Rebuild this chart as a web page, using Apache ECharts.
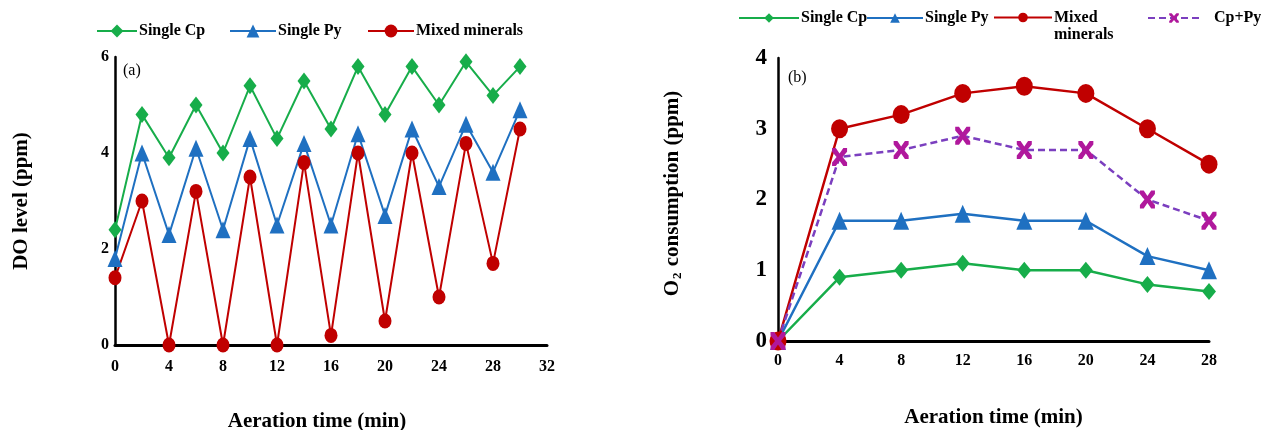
<!DOCTYPE html>
<html>
<head>
<meta charset="utf-8">
<script src="https://cdn.jsdelivr.net/npm/echarts@6/dist/echarts.min.js"></script>
<style>
  html, body { margin: 0; padding: 0; background: #fff; }
  #chart { width: 1261px; height: 430px; }
</style>
</head>
<body>
<div id="chart"></div>
<script>
// ---- Data: panel (a) DO level ----
const timeA = [0, 2, 4, 6, 8, 10, 12, 14, 16, 18, 20, 22, 24, 26, 28, 30];
const cpA  = [2.4, 4.8, 3.9, 5.0, 4.0, 5.4, 4.3, 5.5, 4.5, 5.8, 4.8, 5.8, 5.0, 5.9, 5.2, 5.8];
const pyA  = [1.8, 4.0, 2.3, 4.1, 2.4, 4.3, 2.5, 4.2, 2.5, 4.4, 2.7, 4.5, 3.3, 4.6, 3.6, 4.9];
const mixA = [1.4, 3.0, 0.0, 3.2, 0.0, 3.5, 0.0, 3.8, 0.2, 4.0, 0.5, 4.0, 1.0, 4.2, 1.7, 4.5];
const xTicksA = [0, 4, 8, 12, 16, 20, 24, 28, 32];
const yTicksA = [0, 2, 4, 6];

// ---- Data: panel (b) O2 consumption ----
const timeB = [0, 4, 8, 12, 16, 20, 24, 28];
const cpB   = [0, 0.9, 1.0, 1.1, 1.0, 1.0, 0.8, 0.7];
const pyB   = [0, 1.7, 1.7, 1.8, 1.7, 1.7, 1.2, 1.0];
const mixB  = [0, 3.0, 3.2, 3.5, 3.6, 3.5, 3.0, 2.5];
const cppyB = [0, 2.6, 2.7, 2.9, 2.7, 2.7, 2.0, 1.7];
const xTicksB = [0, 4, 8, 12, 16, 20, 24, 28];
const yTicksB = [0, 1, 2, 3, 4];

const names = ['Single Cp', 'Single Py', 'Mixed minerals', 'Cp+Py'];

const GREEN = '#17ad4a', BLUE = '#1f70c1', RED = '#c00000', VIOLET = '#7b3fbf', MAGENTA = '#b0189c';
const FONT = 'Liberation Serif';
const XSYM = 'path://M0,0 L5,0 L10,6 L15,0 L20,0 L20,4 L14,10 L20,16 L20,20 L15,20 L10,14 L5,20 L0,20 L0,16 L6,10 L0,4 Z';

const pairs = (xs, ys) => xs.map((x, i) => [x, ys[i]]);

const boldText = (size) => ({ color: '#000', fontFamily: FONT, fontWeight: 'bold', fontSize: size });

function legendItem(name, left, top, w, h, size, extra) {
  return Object.assign({
    data: [name], left: left, top: top, itemWidth: w, itemHeight: h,
    padding: 0, itemGap: 0, selectedMode: false,
    textStyle: Object.assign(boldText(size), { padding: [0, 0, 0, -3] })
  }, extra || {});
}

const option = {
  animation: false,
  backgroundColor: '#fff',
  textStyle: { fontFamily: FONT },
  legend: [
    legendItem(names[0], 96, 23, 40, 16, 16),
    legendItem(names[1], 229, 23, 46, 16, 16),
    legendItem(names[2], 367, 23, 46, 16, 16),
    legendItem(names[0], 738, 10, 60, 12, 16),
    legendItem(names[1], 866, 10, 56, 12, 16),
    legendItem(names[2], 993, -8, 58, 12, 16, {
      formatter: () => '\nMixed\nminerals',
      textStyle: Object.assign(boldText(16), { lineHeight: 17, padding: [0, 0, 0, -3] })
    }),
    legendItem(names[3], 1147, 10, 52, 12, 16, {
      textStyle: Object.assign(boldText(16), { padding: [0, 0, 0, 9] })
    })
  ],
  grid: [
    { left: 115, right: 1261 - 547, top: 57, bottom: 430 - 345, outerBoundsMode: 'none', containLabel: false },
    { left: 778, right: 1261 - 1209, top: 58, bottom: 430 - 341, outerBoundsMode: 'none', containLabel: false }
  ],
  xAxis: [
    {
      gridIndex: 0, type: 'value', min: xTicksA[0], max: xTicksA[xTicksA.length - 1], interval: 4,
      name: 'Aeration time (min)', nameLocation: 'middle', nameGap: 66,
      nameTextStyle: Object.assign(boldText(21), { padding: [0, 28, 0, 0] }),
      axisLine: { lineStyle: { color: '#000', width: 3 } },
      axisTick: { show: false }, splitLine: { show: false },
      axisLabel: Object.assign(boldText(16), { margin: 14 })
    },
    {
      gridIndex: 1, type: 'value', min: xTicksB[0], max: xTicksB[xTicksB.length - 1], interval: 4,
      name: 'Aeration time (min)', nameLocation: 'middle', nameGap: 66,
      nameTextStyle: boldText(21),
      axisLine: { lineStyle: { color: '#000', width: 3 } },
      axisTick: { show: false }, splitLine: { show: false },
      axisLabel: Object.assign(boldText(16), { margin: 12 })
    }
  ],
  yAxis: [
    {
      gridIndex: 0, type: 'value', min: yTicksA[0], max: yTicksA[yTicksA.length - 1], interval: 2,
      name: 'DO level (ppm)', nameLocation: 'middle', nameGap: 83,
      nameTextStyle: boldText(21),
      axisLine: { show: true, lineStyle: { color: '#000', width: 2.5 } },
      axisTick: { show: false }, splitLine: { show: false },
      axisLabel: Object.assign(boldText(16), { margin: 6 })
    },
    {
      gridIndex: 1, type: 'value', min: yTicksB[0], max: yTicksB[yTicksB.length - 1], interval: 1,
      name: '{o|O}{s|2}{o| consumption (ppm)}', nameLocation: 'middle', nameGap: 94,
      nameTextStyle: {
        padding: [0, 0, 0, 12],
        rich: {
          o: boldText(21),
          s: Object.assign(boldText(13), { verticalAlign: 'bottom', padding: [9, 1, 0, 1] })
        }
      },
      axisLine: { show: true, lineStyle: { color: '#000', width: 2.5 } },
      axisTick: { show: false }, splitLine: { show: false },
      axisLabel: Object.assign(boldText(23), { margin: 11 })
    }
  ],
  graphic: [
    { type: 'text', left: 123, top: 63, style: { text: '(a)', font: '16px "Liberation Serif"', fill: '#000' } },
    { type: 'text', left: 788, top: 70, style: { text: '(b)', font: '16px "Liberation Serif"', fill: '#000' } }
  ],
  series: [
    { name: names[0], type: 'line', xAxisIndex: 0, yAxisIndex: 0, data: pairs(timeA, cpA),
      symbol: 'diamond', symbolSize: [13, 17], color: GREEN, lineStyle: { width: 2 } },
    { name: names[1], type: 'line', xAxisIndex: 0, yAxisIndex: 0, data: pairs(timeA, pyA),
      symbol: 'triangle', symbolSize: [15, 17], color: BLUE, lineStyle: { width: 2 } },
    { name: names[2], type: 'line', xAxisIndex: 0, yAxisIndex: 0, data: pairs(timeA, mixA),
      symbol: 'circle', symbolSize: [13, 15], color: RED, lineStyle: { width: 2 } },

    { name: names[0], type: 'line', xAxisIndex: 1, yAxisIndex: 1, data: pairs(timeB, cpB),
      symbol: 'diamond', symbolSize: [14, 17], color: GREEN, lineStyle: { width: 2.5 } },
    { name: names[1], type: 'line', xAxisIndex: 1, yAxisIndex: 1, data: pairs(timeB, pyB),
      symbol: 'triangle', symbolSize: [16, 18], color: BLUE, lineStyle: { width: 2.5 } },
    { name: names[2], type: 'line', xAxisIndex: 1, yAxisIndex: 1, data: pairs(timeB, mixB),
      symbol: 'circle', symbolSize: [17, 19], color: RED, lineStyle: { width: 2.5 } },
    { name: names[3], type: 'line', xAxisIndex: 1, yAxisIndex: 1, data: pairs(timeB, cppyB),
      symbol: XSYM, symbolSize: [15, 18], color: MAGENTA, itemStyle: { color: MAGENTA },
      lineStyle: { width: 2.5, type: [7, 4], color: VIOLET } }
  ]
};

const chart = echarts.init(document.getElementById('chart'));
chart.setOption(option);
</script>
</body>
</html>
